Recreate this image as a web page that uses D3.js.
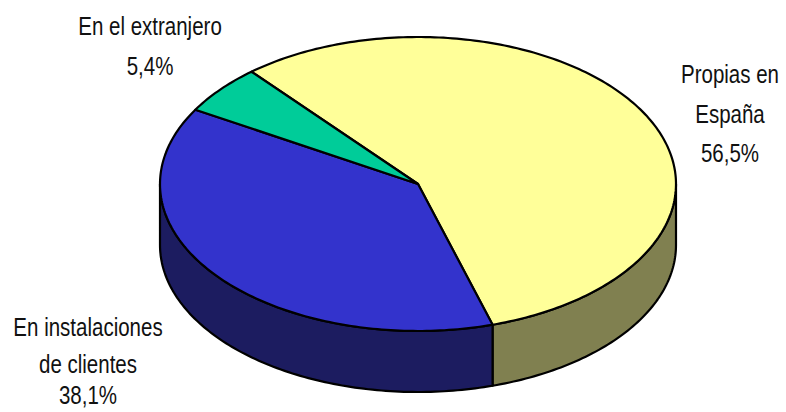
<!DOCTYPE html>
<html>
<head>
<meta charset="utf-8">
<script src="https://cdn.jsdelivr.net/npm/d3@7"></script>
<style>
  body { margin: 0; background: #fff; }
  text { font-family: "Liberation Sans", Arial, sans-serif; font-size: 25px; fill: #111; }
</style>
</head>
<body>
<svg id="chart" width="786" height="412"></svg>
<script>
// data
const categories = ["Propias en España", "En instalaciones de clientes", "En el extranjero"];
const values = [56.5, 38.1, 5.4];
const labelLines = [["Propias en", "España"], ["En instalaciones", "de clientes"], ["En el extranjero"]];

// colours: top face and darker side face
const topColors = ["#FFFF99", "#3333CC", "#00CC99"];
const sideColors = ["#808050", "#1C1C60", "#006650"];

// label anchors (centre x, baselines)
const labelPos = [
    { x: 730, y: [83, 123, 162] },
    { x: 88, y: [336, 373, 404] },
    { x: 150, y: [35, 75] }
];

const svg = d3.select("#chart");

// ellipse geometry of the tilted pie
const cx = 418, cy = 184, rx = 258, ry = 147, depth = 61;
const startA = -40.2 * Math.PI / 180;

const pie = d3.pie()
    .sort(null)
    .startAngle(startA)
    .endAngle(startA + 2 * Math.PI);
const slices = pie(values);

// map a pie angle (clockwise from north) onto the ellipse
function proj(a, dy) {
    return [cx + rx * Math.sin(a), cy - ry * Math.cos(a) + dy];
}

function arcPoints(a0, a1, dy) {
    const n = Math.max(2, Math.ceil(Math.abs(a1 - a0) * 180 / Math.PI));
    const pts = [];
    for (let i = 0; i <= n; i++) {
        pts.push(proj(a0 + (a1 - a0) * i / n, dy));
    }
    return pts;
}

const line = d3.line().curve(d3.curveLinear);

////////////////////// SIDES //////////////////////
// only the front half (PI/2 .. 3PI/2) shows its side wall
const visA0 = Math.PI / 2, visA1 = 3 * Math.PI / 2;

slices.forEach((s, i) => {
    const a0 = Math.max(s.startAngle, visA0);
    const a1 = Math.min(s.endAngle, visA1);
    if (a1 <= a0) return;
    const pts = arcPoints(a0, a1, 0).concat(arcPoints(a1, a0, depth));
    svg.append("path")
        .attr("d", line(pts) + "Z")
        .attr("fill", sideColors[i])
        .attr("stroke", "#000")
        .attr("stroke-width", 2.2)
        .attr("stroke-linejoin", "round");
});

////////////////////// TOP FACE //////////////////////
slices.forEach((s, i) => {
    const pts = [[cx, cy]].concat(arcPoints(s.startAngle, s.endAngle, 0));
    svg.append("path")
        .attr("d", line(pts) + "Z")
        .attr("fill", topColors[i])
        .attr("stroke", "#000")
        .attr("stroke-width", 2.2)
        .attr("stroke-linejoin", "round");
});

////////////////////// LABELS //////////////////////
const fmt = v => v.toFixed(1).replace(".", ",") + "%";

categories.forEach((c, i) => {
    const lines = labelLines[i].concat([fmt(values[i])]);
    const g = svg.append("g")
        .attr("transform", `translate(${labelPos[i].x},0) scale(0.82,1)`);
    lines.forEach((t, j) => {
        g.append("text")
            .attr("x", 0)
            .attr("y", labelPos[i].y[j])
            .attr("text-anchor", "middle")
            .text(t);
    });
});
</script>
</body>
</html>
